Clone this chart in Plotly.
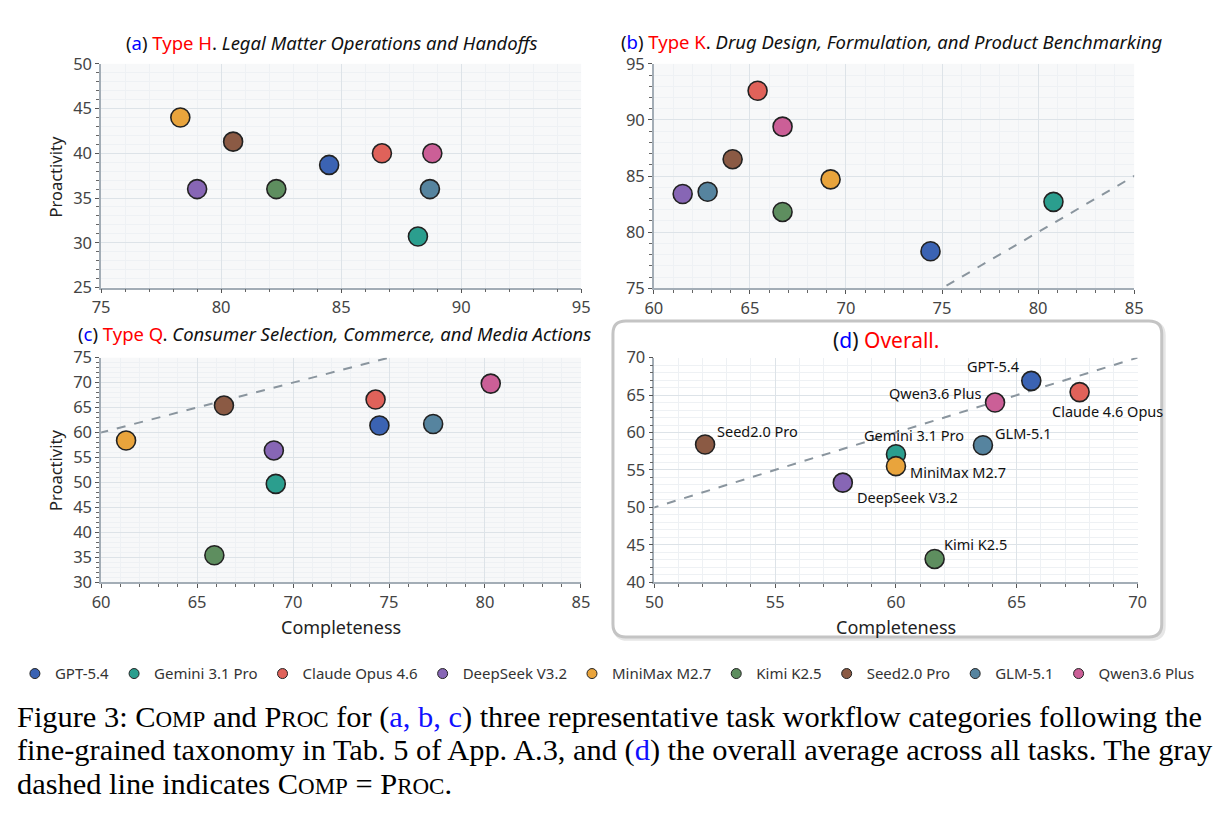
import plotly.graph_objects as go

W, H = 1220, 816

models = ["GPT-5.4", "Gemini 3.1 Pro", "Claude Opus 4.6", "DeepSeek V3.2", "MiniMax M2.7",
          "Kimi K2.5", "Seed2.0 Pro", "GLM-5.1", "Qwen3.6 Plus"]
colors = ["#3b63b3", "#2b9e8e", "#e0625a", "#8766b5", "#e9a43c",
          "#5e8e5f", "#8b5a44", "#56849f", "#cb5f97"]

# (a) Type H
a_comp = [84.5, 88.2, 86.7, 79.0, 78.3, 82.3, 80.5, 88.7, 88.8]
a_proc = [38.7, 30.7, 40.0, 36.0, 44.0, 36.0, 41.3, 36.0, 40.0]
# (b) Type K
b_comp = [74.4, 80.8, 65.4, 61.5, 69.2, 66.7, 64.1, 62.8, 66.7]
b_proc = [78.3, 82.7, 92.6, 83.4, 84.7, 81.8, 86.5, 83.6, 89.4]
# (c) Type Q
c_comp = [74.5, 69.1, 74.3, 69.0, 61.3, 65.9, 66.4, 77.3, 80.3]
c_proc = [61.4, 49.7, 66.6, 56.4, 58.4, 35.4, 65.4, 61.7, 69.8]
# (d) Overall
d_comp = [65.6, 60.0, 67.6, 57.8, 60.0, 61.6, 52.1, 63.6, 64.1]
d_proc = [66.9, 57.1, 65.4, 53.3, 55.5, 43.1, 58.4, 58.3, 64.0]
d_labels = ["GPT-5.4", "Gemini 3.1 Pro", "Claude 4.6 Opus", "DeepSeek V3.2", "MiniMax M2.7",
            "Kimi K2.5", "Seed2.0 Pro", "GLM-5.1", "Qwen3.6 Plus"]

x_ranges = [[75, 95], [60, 85], [60, 85], [50, 70]]
y_ranges = [[25, 50], [75, 95], [30, 75], [40, 70]]
diag = [0, 100]

FONT = "Noto Sans"

def px_x(p):
    return p / W

def px_y(p):
    return 1 - p / H

# plot areas in pixels (left, right, top, bottom)
areas = [(93.5, 580.7, 53.3, 283.5), (654.5, 1142, 53.3, 284.3),
         (93.5, 580.5, 355.7, 586.7), (655, 1145.5, 355.7, 586.7)]

fig = go.Figure()
datasets = [(a_comp, a_proc), (b_comp, b_proc), (c_comp, c_proc), (d_comp, d_proc)]

axis_common = dict(
    showgrid=True, gridcolor="#dde3e8", gridwidth=1.2, zeroline=False,
    showline=True, linecolor="#a3adb6", linewidth=1.5,
    ticks="outside", ticklen=4, tickwidth=1.3, tickcolor="#555",
    tickfont=dict(family=FONT, size=16.5, color="#444"),
    fixedrange=True,
)

for i, ((xs, ys), (l, r, t, b)) in enumerate(zip(datasets, areas)):
    xa = "x" if i == 0 else f"x{i+1}"
    ya = "y" if i == 0 else f"y{i+1}"
    xkey = "xaxis" if i == 0 else f"xaxis{i+1}"
    ykey = "yaxis" if i == 0 else f"yaxis{i+1}"
    fig.update_layout(**{
        xkey: dict(axis_common, domain=[px_x(l), px_x(r)], range=x_ranges[i], dtick=5,
                   tick0=0, anchor=ya,
                   minor=dict(dtick=1, showgrid=True, gridcolor="#eef1f4", gridwidth=1,
                              ticks="outside", ticklen=3, tickcolor="#666", tickwidth=1)),
        ykey: dict(axis_common, domain=[px_y(b), px_y(t)], range=y_ranges[i], dtick=5,
                   tick0=0, anchor=xa,
                   minor=dict(dtick=1, showgrid=True, gridcolor="#eef1f4", gridwidth=1,
                              ticks="outside", ticklen=3, tickcolor="#666", tickwidth=1)),
    })
    # identity line COMP = PROC
    fig.add_trace(go.Scatter(x=diag, y=diag, mode="lines", xaxis=xa, yaxis=ya,
                             line=dict(color="#8a959e", width=2, dash="dash"),
                             showlegend=False, hoverinfo="skip"))
    for j, m in enumerate(models):
        fig.add_trace(go.Scatter(x=[xs[j]], y=[ys[j]], mode="markers", xaxis=xa, yaxis=ya,
                                 name=m, showlegend=False,
                                 marker=dict(size=19, color=colors[j],
                                             line=dict(color="#222", width=1.6))))

# legend entries
for j, m in enumerate(models):
    fig.add_trace(go.Scatter(x=[None], y=[None], mode="markers", name=m,
                             marker=dict(size=10, color=colors[j],
                                         line=dict(color="#222", width=1))))

annotations = []
# panel titles
titles = [
    ("(<span style='color:#0000ff'>a</span>) <span style='color:#ff0000'>Type H</span>. "
     "<i>Legal Matter Operations and Handoffs</i>", 328, 31, 18.5),
    ("(<span style='color:#0000ff'>b</span>) <span style='color:#ff0000'>Type K</span>. "
     "<i>Drug Design, Formulation, and Product Benchmarking</i>", 896, 30, 18.5),
    ("(<span style='color:#0000ff'>c</span>) <span style='color:#ff0000'>Type Q</span>. "
     "<i>Consumer Selection, Commerce, and Media Actions</i>", 330, 331, 18.5),
    ("(<span style='color:#0000ff'>d</span>) <span style='color:#ff0000'>Overall.</span>",
     890, 337, 21),
]
for txt, cx, cy, fs in titles:
    annotations.append(dict(text=txt, x=px_x(cx), y=px_y(cy), xref="paper", yref="paper",
                            showarrow=False, xanchor="center", yanchor="middle",
                            font=dict(family=FONT, size=fs, color="#111")))

# axis titles
for txt, cx, cy, ang, fs in [("Proactivity", 47, 170, -90, 16.5), ("Proactivity", 47, 472, -90, 16.5),
                             ("Completeness", 337, 633, 0, 18), ("Completeness", 900, 633, 0, 18)]:
    annotations.append(dict(text=txt, x=px_x(cx), y=px_y(cy), xref="paper", yref="paper",
                            showarrow=False, textangle=ang, xanchor="center", yanchor="middle",
                            font=dict(family=FONT, size=fs, color="#222")))

# labels in (d): (xanchor, xshift, yshift)
label_pos = {
    "GPT-5.4": ("right", -10, 15),
    "Gemini 3.1 Pro": ("left", -34, 19),
    "Claude 4.6 Opus": ("left", -30, -19),
    "DeepSeek V3.2": ("left", 12, -14),
    "MiniMax M2.7": ("left", 12, -6),
    "Kimi K2.5": ("left", 7, 15),
    "Seed2.0 Pro": ("left", 10, 13),
    "GLM-5.1": ("left", 10, 12),
    "Qwen3.6 Plus": ("right", -11, 10),
}
for j, lab in enumerate(d_labels):
    xa, xs_, ys_ = label_pos[lab]
    annotations.append(dict(text=lab, x=d_comp[j], y=d_proc[j], xref="x4", yref="y4",
                            showarrow=False, xanchor=xa, yanchor="middle",
                            xshift=xs_, yshift=ys_,
                            font=dict(family=FONT, size=14.5, color="#111")))

# caption (small caps simulated)
def sc(word):
    return word[0] + "<span style='font-size:23px'>" + word[1:].upper() + "</span>"

blue = "#1010ff"
cap_lines = [
    f"Figure 3: {sc('Comp')} and {sc('Proc')} for (<span style='color:{blue}'>a, b, c</span>) three representative task workflow categories following the",
    f"fine-grained taxonomy in Tab. 5 of App. A.3, and (<span style='color:{blue}'>d</span>) the overall average across all tasks. The gray",
    f"dashed line indicates {sc('Comp')} = {sc('Proc')}.",
]
for k, line in enumerate(cap_lines):
    annotations.append(dict(text=line, x=px_x(6), y=px_y(725 + 34.5 * k), xref="paper", yref="paper",
                            showarrow=False, xanchor="left", yanchor="middle",
                            font=dict(family="Liberation Serif", size=30.4, color="#000")))

# rounded box around (d)
x0, x1, y0, y1 = 613, 1170, 318, 643
rr = 13

def P(x, y):
    return f"{px_x(x):.5f},{px_y(y):.5f}"

def rbox(dx, dy):
    a0, a1, b0, b1 = x0 + dx, x1 + dx, y0 + dy, y1 + dy
    return (f"M {P(a0 + rr, b0)} L {P(a1 - rr, b0)} Q {P(a1, b0)} {P(a1, b0 + rr)} "
            f"L {P(a1, b1 - rr)} Q {P(a1, b1)} {P(a1 - rr, b1)} L {P(a0 + rr, b1)} "
            f"Q {P(a0, b1)} {P(a0, b1 - rr)} L {P(a0, b0 + rr)} Q {P(a0, b0)} {P(a0 + rr, b0)} Z")

shapes = [
    dict(type="path", path=rbox(2, 2), xref="paper", yref="paper", layer="below",
         line=dict(color="#e6e6e6", width=4), fillcolor="rgba(0,0,0,0)"),
    dict(type="path", path=rbox(0, 0), xref="paper", yref="paper", layer="below",
         line=dict(color="#c4c4c4", width=3), fillcolor="white"),
]

fig.update_layout(
    width=W, height=H, margin=dict(l=0, r=0, t=0, b=0),
    paper_bgcolor="white", plot_bgcolor="#f7f8f9",
    annotations=annotations, shapes=shapes,
    showlegend=True,
    legend=dict(orientation="h", x=px_x(6), y=px_y(681), xanchor="left", yanchor="middle",
                font=dict(family=FONT, size=15, color="#333"), bgcolor="rgba(0,0,0,0)",
                itemwidth=30, tracegroupgap=0),
    font=dict(family=FONT),
)

fig.write_html("out.html")
